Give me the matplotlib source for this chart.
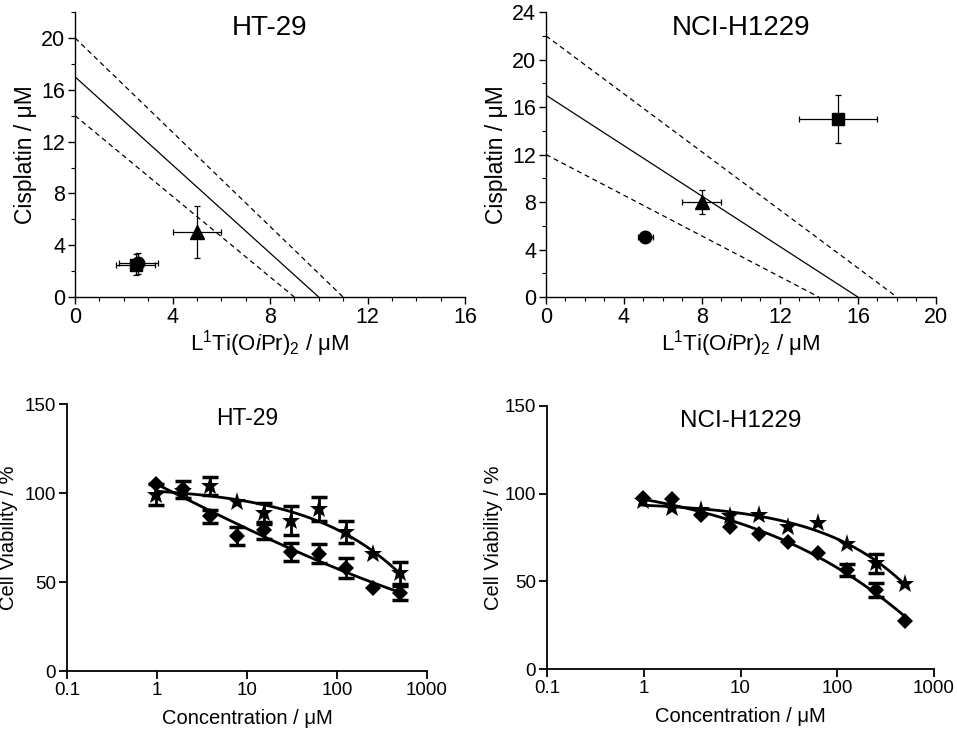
import numpy as np
import matplotlib
matplotlib.use('Agg')
import matplotlib.pyplot as plt

plt.rcParams['font.family'] = ['Liberation Sans', 'DejaVu Sans']
plt.rcParams['mathtext.fontset'] = 'custom'
plt.rcParams['mathtext.rm'] = 'Liberation Sans'
plt.rcParams['mathtext.it'] = 'Liberation Sans:italic'

# --- isobologram data (top row) ---
iso_titles = ['HT-29', 'NCI-H1229']
iso_xlim = [16, 20]
iso_ylim = [22, 24]
iso_xticks = [[0, 4, 8, 12, 16], [0, 4, 8, 12, 16, 20]]
iso_yticks = [[0, 4, 8, 12, 16, 20], [0, 4, 8, 12, 16, 20, 24]]
# additivity line (ic50 of each drug) with lower / upper bounds
iso_line_x = [[9, 10, 11], [14, 16, 18]]
iso_line_y = [[14, 17, 20], [12, 17, 22]]
# combination points: square, circle, triangle  (x, y, xerr, yerr)
iso_sq = [(2.5, 2.5, 0.8, 0.8), (15, 15, 2, 2)]
iso_ci = [(2.6, 2.6, 0.8, 0.8), (5.1, 5.1, 0.4, 0.2)]
iso_tri = [(5, 5, 1, 2), (8, 8, 1, 1)]

# --- dose-response data (bottom row) ---
conc = [0.98, 1.95, 3.9, 7.8, 15.6, 31.25, 62.5, 125, 250, 500]
ht29_dia = [105, 102, 87, 76, 79, 67, 66, 58, 46.5, 44]
ht29_dia_err = [0, 5, 3.7, 5, 4.7, 5, 5.6, 5.6, 0, 4]
ht29_star = [99, 101, 104, 95, 88.6, 84.5, 91, 78, 65.5, 55]
ht29_star_err = [6, 0, 5, 0, 6, 8, 7, 6, 0, 6]
h1229_dia = [97.7, 96.7, 88, 81, 77, 72.6, 66, 56.5, 44.8, 27.5]
h1229_dia_err = [0, 0, 0, 0, 0, 0, 0, 3.5, 4, 0]
h1229_star = [96, 91.6, 90.6, 87.4, 87.8, 81, 83.4, 71.3, 60.3, 48.4]
h1229_star_err = [0, 0, 0, 0, 0, 0, 0, 0, 5.5, 0]
dr_titles = ['HT-29', 'NCI-H1229']


def fit_4pl(x, y):
    # grid search on logEC50 / hill, top and bottom by linear least squares
    lx = np.log10(np.asarray(x, float))
    y = np.asarray(y, float)
    lec, h = np.meshgrid(np.linspace(0, 5, 251), np.linspace(0.2, 3, 141))
    lec = lec.ravel()[:, None]
    h = h.ravel()[:, None]
    f = 1.0 / (1.0 + 10 ** ((lx[None, :] - lec) * h))
    fm = f.mean(axis=1, keepdims=True)
    ym = y.mean()
    var = ((f - fm) ** 2).sum(axis=1, keepdims=True)
    s = ((f - fm) * (y - ym)).sum(axis=1, keepdims=True) / var
    b = ym - s * fm
    sse = ((b + s * f - y) ** 2).sum(axis=1)
    i = np.argmin(sse)
    return lec[i, 0], h[i, 0], b[i, 0], s[i, 0]


def curve(x, y, xs):
    lec, h, b, s = fit_4pl(x, y)
    return b + s / (1.0 + 10 ** ((np.log10(xs) - lec) * h))


fig = plt.figure(figsize=(9.57, 7.39), dpi=100)

iso_pos = [[0.0784, 0.598, 0.4075, 0.3857], [0.5705, 0.598, 0.4075, 0.3857]]
iso_title_fs = [20, 20]
for k in range(2):
    ax = fig.add_axes(iso_pos[k])
    lx, ly = iso_line_x[k], iso_line_y[k]
    ax.plot([0, lx[1]], [ly[1], 0], color='black', lw=0.9)
    ax.plot([0, lx[0]], [ly[0], 0], color='black', lw=0.9, ls=(0, (4, 3)))
    ax.plot([0, lx[2]], [ly[2], 0], color='black', lw=0.9, ls=(0, (4, 3)))
    for pts, mk, ms in [(iso_sq, 's', 8), (iso_ci, 'o', 9), (iso_tri, '^', 10)]:
        px, py, ex, ey = pts[k]
        ax.errorbar(px, py, xerr=ex, yerr=ey, fmt=mk, color='black', ms=ms,
                    elinewidth=0.9, capsize=2.5, capthick=0.9, clip_on=False)
    ax.set_xlim(0, iso_xlim[k])
    ax.set_ylim(0, iso_ylim[k])
    ax.set_xticks(iso_xticks[k])
    ax.set_yticks(iso_yticks[k])
    ax.set_xticks(np.arange(0, iso_xlim[k] + 1, 1), minor=True)
    ax.set_yticks(np.arange(0, iso_ylim[k] + 1, 2), minor=True)
    for sp in ['top', 'right']:
        ax.spines[sp].set_visible(False)
    for sp in ['left', 'bottom']:
        ax.spines[sp].set_linewidth(1.0)
    ax.tick_params(which='major', direction='out', length=5, width=1.0, labelsize=15.5, pad=2)
    ax.tick_params(which='minor', direction='out', length=3, width=0.8)
    ax.set_xlabel(r'L$^{1}$Ti(O$\it{i}$Pr)$_{2}$ / μM', fontsize=16, labelpad=0)
    ax.set_ylabel('Cisplatin / μM', fontsize=16.5, labelpad=3)
    ax.set_title(iso_titles[k], fontsize=iso_title_fs[k], y=0.89)

dr_pos = [[0.070, 0.092, 0.376, 0.3613], [0.5716, 0.0947, 0.4044, 0.356]]
dr_data = [(ht29_dia, ht29_dia_err, ht29_star, ht29_star_err),
           (h1229_dia, h1229_dia_err, h1229_star, h1229_star_err)]
dr_title_fs = [16.5, 17.5]
dr_ylab_x = [-0.135, -0.115]
xs = np.logspace(np.log10(conc[0]), np.log10(conc[-1]), 200)
for k in range(2):
    ax = fig.add_axes(dr_pos[k])
    dia, dia_err, star, star_err = dr_data[k]
    for vals, errs, mk, ms in [(dia, dia_err, 'D', 8), (star, star_err, '*', 14)]:
        ax.plot(xs, curve(conc, vals, xs), color='black', lw=2)
        ax.plot(conc, vals, mk, color='black', ms=ms, mew=0)
        c = np.array(conc)
        v = np.array(vals, float)
        e = np.array(errs, float)
        m = e > 0
        ax.errorbar(c[m], v[m], yerr=e[m], fmt='none', ecolor='black',
                    elinewidth=2, capsize=6, capthick=2.5)
    ax.set_xscale('log')
    ax.set_xlim(0.1, 1000)
    ax.set_ylim(0, 150)
    ax.set_xticks([0.1, 1, 10, 100, 1000])
    ax.set_xticklabels(['0.1', '1', '10', '100', '1000'])
    ax.xaxis.set_minor_locator(matplotlib.ticker.NullLocator())
    ax.set_yticks([0, 50, 100, 150])
    for sp in ['top', 'right']:
        ax.spines[sp].set_visible(False)
    for sp in ['left', 'bottom']:
        ax.spines[sp].set_linewidth(1.3)
    ax.tick_params(direction='out', length=6, width=1.3, labelsize=13.5, pad=2)
    ax.set_xlabel('Concentration / μM', fontsize=14.5, labelpad=7)
    ax.set_ylabel('Cell Viability / %', fontsize=14.5)
    ax.yaxis.set_label_coords(dr_ylab_x[k], 0.5)
    ax.set_title(dr_titles[k], fontsize=dr_title_fs[k], y=0.89)

fig.savefig('out.png', dpi=100)
